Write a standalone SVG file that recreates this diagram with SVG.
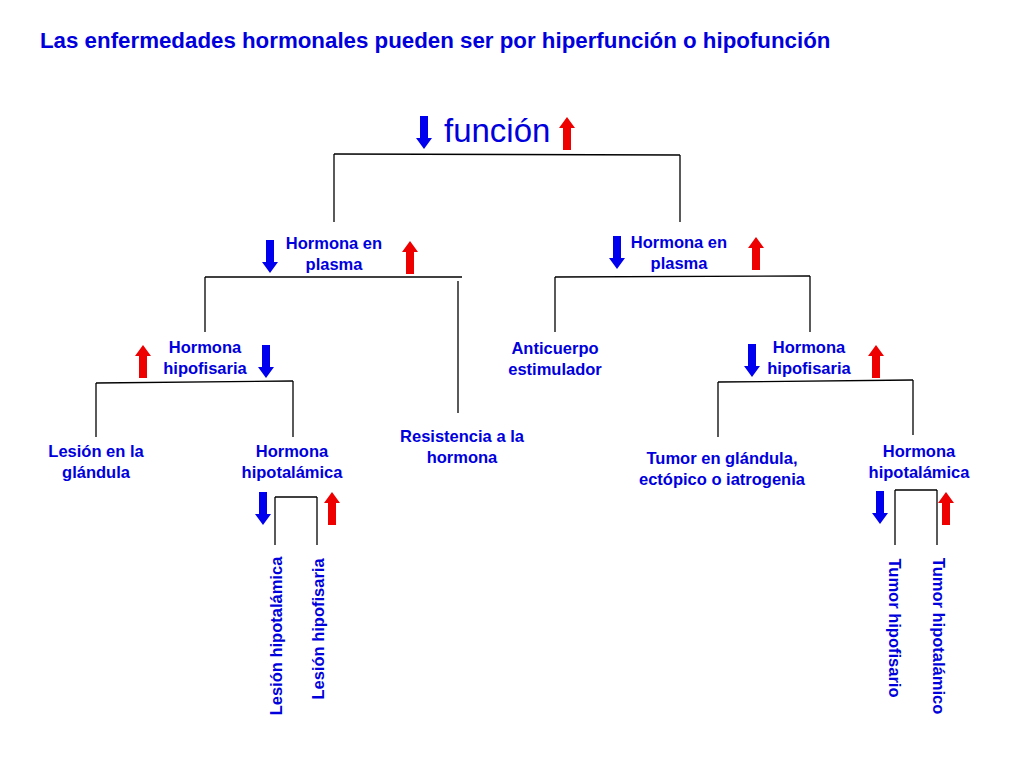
<svg xmlns="http://www.w3.org/2000/svg" width="1024" height="768" viewBox="0 0 1024 768">
<style>
text{font-family:"Liberation Sans",Arial,sans-serif;fill:#0000dd;font-weight:bold;font-size:16.5px;text-anchor:middle}
.t{font-size:22.3px;text-anchor:start}
.f{font-size:33px;font-weight:normal;text-anchor:start}
line{stroke:#000;stroke-width:1.3}
.dn{fill:#0000ee}.up{fill:#ee0000}
</style>
<defs>
<path id="d" d="M-4,0H4V22H8L0,33L-8,22H-4Z"/>
<path id="u" d="M-4,33H4V11H8L0,0L-8,11H-4Z"/>
</defs>
<rect width="1024" height="768" fill="#fff"/>
<text class="t" x="40" y="48">Las enfermedades hormonales pueden ser por hiperfunción o hipofunción</text>
<g id="connectors">
<line x1="334" y1="154" x2="680" y2="155"/><line x1="334" y1="154" x2="334" y2="222"/><line x1="680" y1="155" x2="680" y2="222"/>
<line x1="205" y1="277" x2="462" y2="277"/><line x1="205" y1="277" x2="205" y2="332"/><line x1="458" y1="281" x2="458" y2="413"/>
<line x1="555" y1="277" x2="810" y2="276"/><line x1="555" y1="277" x2="555" y2="332"/><line x1="810" y1="276" x2="810" y2="332"/>
<line x1="96" y1="383" x2="293" y2="381"/><line x1="96" y1="383" x2="96" y2="437"/><line x1="293" y1="381" x2="293" y2="437"/>
<line x1="718" y1="382" x2="913" y2="380"/><line x1="718" y1="382" x2="718" y2="437"/><line x1="913" y1="380" x2="913" y2="435"/>
<line x1="275" y1="497" x2="317" y2="497"/><line x1="275" y1="497" x2="275" y2="545"/><line x1="317" y1="497" x2="317" y2="545"/>
<line x1="895" y1="490" x2="937" y2="490"/><line x1="895" y1="490" x2="895" y2="545"/><line x1="937" y1="490" x2="937" y2="545"/>
</g>
<g id="funcion"><use href="#d" class="dn" x="424" y="116"/><text class="f" x="444" y="142">función</text><use href="#u" class="up" x="567" y="117"/></g>
<g id="plasmaL"><use href="#d" class="dn" x="270" y="240"/><text x="334" y="249">Hormona en</text><text x="334" y="270">plasma</text><use href="#u" class="up" x="410" y="241"/></g>
<g id="plasmaR"><use href="#d" class="dn" x="617" y="236"/><text x="679" y="248">Hormona en</text><text x="679" y="269">plasma</text><use href="#u" class="up" x="756" y="237"/></g>
<g id="hipofL"><use href="#u" class="up" x="143" y="345"/><text x="205" y="353">Hormona</text><text x="205" y="374">hipofisaria</text><use href="#d" class="dn" x="266" y="345"/></g>
<g id="hipofR"><use href="#d" class="dn" x="752" y="344"/><text x="809" y="353">Hormona</text><text x="809" y="374">hipofisaria</text><use href="#u" class="up" x="876" y="345"/></g>
<g id="lesionGl"><text x="96" y="457">Lesión en la</text><text x="96" y="478">glándula</text></g>
<g id="hipotL"><text x="292" y="457">Hormona</text><text x="292" y="478">hipotalámica</text><use href="#d" class="dn" x="263" y="492"/><use href="#u" class="up" x="332" y="492"/></g>
<g id="resist"><text x="462" y="442">Resistencia a la</text><text x="462" y="463">hormona</text></g>
<g id="anti"><text x="555" y="354">Anticuerpo</text><text x="555" y="375">estimulador</text></g>
<g id="tumorGl"><text x="722" y="464">Tumor en glándula,</text><text x="722" y="485">ectópico o iatrogenia</text></g>
<g id="hipotR"><text x="919" y="457">Hormona</text><text x="919" y="478">hipotalámica</text><use href="#d" class="dn" x="880" y="491"/><use href="#u" class="up" x="946" y="492"/></g>
<g id="lesHipot"><text transform="translate(282,636) rotate(-90)">Lesión hipotalámica</text></g>
<g id="lesHipof"><text transform="translate(324,629) rotate(-90)">Lesión hipofisaria</text></g>
<g id="tumHipof"><text transform="translate(889,628) rotate(90)">Tumor hipofisario</text></g>
<g id="tumHipot"><text transform="translate(933,636) rotate(90)">Tumor hipotalámico</text></g>
</svg>
